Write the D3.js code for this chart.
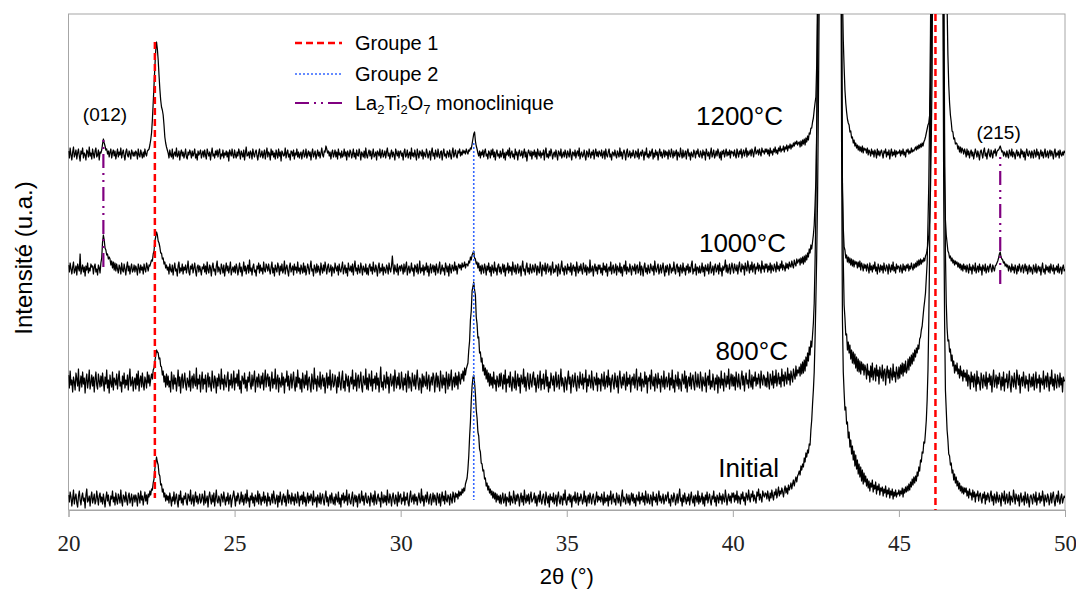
<!DOCTYPE html>
<html><head><meta charset="utf-8">
<script src="https://cdn.jsdelivr.net/npm/d3@7"></script>
<style>body{margin:0;background:#fff}</style></head>
<body>
<svg id="c" width="1076" height="590"></svg>
<script>
// 2θ grid of the scans (one row = 1°)
const xStart = 20, xStep = 0.025;
const seriesNames = ["Initial", "800°C", "1000°C", "1200°C"];
const seriesOffsets = [10, 127, 240, 355];   // vertical stacking offsets (a.u.)

const initialScan = [
5,-2,8,3,-6,1,10,-4,2,6,-3,-7,4,9,0,-5,3,7,-1,2,-8,5,11,-2,0,4,-6,3,8,-3,1,6,-4,-1,9,2,-5,4,7,-2,
3,-4,6,0,-7,2,8,-1,5,-3,-6,4,1,9,-2,3,-5,7,0,-4,6,2,-3,10,-1,-6,5,3,-2,8,0,-5,4,7,-3,1,6,-6,2,5,
-2,5,1,-6,7,3,-3,9,0,4,-5,2,8,-1,5,-4,6,3,9,5,11,10,17,21,31,37,43,38,35,26,24,15,16,8,11,3,7,-1,5,0,
4,-3,7,1,-6,3,-1,8,-4,2,6,-2,-7,5,0,9,-3,2,-5,4,1,7,-2,-5,6,3,-1,10,-4,0,5,-6,2,8,-2,4,-4,1,6,-3,
-1,6,2,-5,9,-3,0,4,-7,3,8,1,-4,5,-2,7,-6,2,10,-1,-3,4,0,-6,6,3,-2,8,1,-5,3,-1,7,-4,2,5,-7,0,4,9,
2,-6,4,-1,7,3,-4,0,8,-2,5,-5,1,6,-3,10,-1,2,-7,4,0,7,-3,3,-6,5,1,-2,9,-4,6,2,-5,3,-1,8,-3,4,0,-6,
7,-1,3,-5,0,6,-3,9,2,-4,1,5,-7,4,-2,8,0,-5,3,6,-2,4,-6,1,10,-3,5,2,-4,7,-1,3,-5,6,0,-3,8,2,-6,4,
0,5,-4,8,-2,3,-6,1,7,-3,4,-1,6,2,-5,9,-2,0,3,-7,5,1,-3,7,-4,2,6,-1,-5,4,9,-2,3,-6,1,5,-3,7,0,-4,
3,-5,6,1,-2,8,-4,2,-7,5,0,7,-3,4,-1,10,-5,2,6,-2,-4,3,8,-6,1,5,-2,4,-7,2,6,-3,0,9,-1,4,-5,3,7,-2,
-3,4,1,-6,7,2,-2,5,-5,9,0,-4,3,6,-1,2,-7,8,1,-3,5,-2,4,-5,10,0,-3,6,2,-6,3,7,-1,-4,5,1,-6,8,-2,4,
6,-4,2,-1,8,-5,3,0,7,-3,-6,4,9,-2,1,5,-4,6,-1,3,-5,2,7,0,-3,11,-1,4,-6,2,5,-2,8,1,-4,3,6,-5,0,7,
-2,5,1,-5,7,3,-3,6,-6,2,8,-1,4,-4,9,0,-2,5,3,-5,6,1,-3,8,4,-2,7,3,6,1,9,4,8,5,11,7,12,9,16,19,
22,31,44,63,78,99,114,122,125,117,106,90,82,68,64,51,48,37,36,29,30,21,22,14,17,10,14,7,11,5,9,2,8,1,7,-2,6,0,4,-3,
5,-4,2,7,-3,0,6,-6,3,1,-2,8,-5,4,0,-3,9,2,-4,5,-1,6,3,-6,2,7,-2,4,-5,10,1,-3,5,-1,6,-4,3,8,-2,0,
2,7,-3,4,-6,1,5,-2,9,0,-4,3,6,-1,-5,8,2,-3,4,-7,6,0,3,-2,7,-4,1,5,-6,3,8,-1,-4,4,2,-5,6,0,10,-2,
-5,3,0,6,-2,5,-7,2,4,-1,8,-3,1,7,-5,3,-1,6,2,-4,0,9,-2,4,-6,1,5,-3,7,2,-4,3,6,-1,-5,2,8,-2,4,0,
3,-2,6,1,-5,8,-3,2,-1,5,-6,4,0,9,-4,3,6,-2,1,-5,7,2,-3,5,-1,-6,4,10,-2,3,0,-4,6,2,-3,5,-5,1,7,-1,
6,-3,2,-6,5,1,-1,8,-4,3,0,7,-2,4,-5,9,1,-3,6,-1,-4,5,2,-6,8,0,3,-2,6,-5,2,9,-1,4,-3,1,6,-4,0,5,
-1,4,8,-3,1,-6,5,2,-2,7,3,-5,0,6,-3,4,11,-1,2,-6,5,-2,7,1,-4,3,-1,6,-5,2,8,0,-3,4,-6,5,2,-2,9,-4,
4,-2,1,7,-4,3,-6,5,0,8,-3,2,6,-1,-5,4,1,9,-2,3,-6,5,2,-3,7,0,4,-4,6,1,-2,10,3,-5,2,6,-1,4,-3,7,
3,7,-2,5,0,9,-3,4,2,-4,6,1,8,-1,3,-5,7,4,0,10,2,-2,6,3,9,-1,5,1,-3,8,4,11,0,6,2,-2,9,5,3,7,
6,1,9,3,-1,7,2,10,4,0,8,5,11,2,7,13,4,9,6,12,8,3,10,14,7,12,6,15,10,13,17,11,16,20,14,19,23,18,24,26,
29,25,34,30,36,33,42,38,47,43,50,47,56,55,70,80,96,110,128,160,200,245,300,390,500,650,800,1000,1200,1400,1600,1700,1800,1750,1700,1800,1900,1950,2000,2000,
1900,1850,1700,1600,1500,1350,1200,1050,900,750,600,350,180,128,108,90,93,76,78,62,68,53,60,46,54,40,49,34,45,31,40,26,36,23,33,19,30,16,27,18,
24,14,21,12,19,9,17,13,20,8,15,11,18,6,14,10,16,5,12,9,13,4,11,7,14,3,10,6,12,2,9,5,11,1,8,4,10,3,7,6,
10,4,9,6,12,3,11,7,13,8,14,9,16,10,18,13,21,15,23,17,24,19,28,24,33,29,40,38,48,47,58,57,68,80,100,130,180,250,350,500,
700,900,1100,1300,1500,1600,1700,1750,1800,1700,1500,1200,800,500,300,180,110,90,70,60,46,44,35,37,27,30,20,26,17,23,14,19,11,17,9,14,7,13,6,12,
8,12,4,9,2,11,5,7,0,10,3,8,-2,6,4,9,-1,5,7,1,-3,6,2,8,-4,5,0,7,3,-2,5,9,-1,4,-5,6,2,-3,8,1,
-2,5,1,-6,7,3,-1,9,-4,2,6,-3,0,8,-5,4,1,-2,10,3,-4,6,2,-1,5,-6,3,7,-2,0,4,-5,8,1,-3,6,0,-7,3,5,
1,-4,6,3,-2,8,-5,2,0,7,-3,4,-1,9,2,-6,5,1,-2,6,3,-5,0,7,-3,4,8,-1,-6,2,5,-2,9,0,-4,3,6,-3,1,4,
2];

const scan800 = [
8,-5,12,-2,3,-9,6,1,-7,10,4,-3,14,-8,0,7,-4,11,-1,5,-10,3,9,-5,2,13,-6,0,8,-3,6,-9,4,11,-2,-6,9,2,-4,7,
-3,10,1,-8,6,-1,13,-5,3,-10,8,0,-4,11,-7,5,2,-2,9,-6,4,12,-3,1,-9,7,-1,10,-5,3,-2,8,-7,5,14,-3,0,6,-8,2,
5,-6,9,-2,12,-8,3,7,-4,10,-1,-7,6,2,-5,11,0,8,-3,4,9,4,13,15,22,27,33,31,30,24,25,17,16,8,12,1,7,-4,9,-2,
7,-4,2,-9,11,3,-6,8,-1,5,-8,1,13,-3,6,-10,4,9,-5,2,10,-2,-7,5,1,-4,12,-8,3,7,-5,9,0,-3,15,-6,4,-1,8,-9,
2,11,-6,4,-1,8,-9,3,10,-4,6,-2,-8,12,1,-5,7,3,-10,5,-3,9,2,-6,14,-1,4,-7,8,0,-4,6,11,-8,3,-2,9,-5,1,12,
-7,5,0,9,-3,13,-6,2,-10,7,4,-1,10,-5,3,-8,6,1,11,-2,-6,8,-3,4,12,-9,2,6,-4,9,1,-5,7,-1,10,-7,3,13,-4,5,
9,-3,6,-8,2,11,-5,4,-1,14,-6,3,8,-9,5,0,-4,10,-2,6,-10,4,1,12,-3,7,-7,2,9,-5,3,11,-2,-8,6,-4,13,0,5,-6,
4,-9,10,1,-5,8,-2,12,-7,3,6,-3,-9,9,2,-6,15,-1,4,-8,7,0,-4,11,-6,3,8,-3,5,-10,2,10,-5,6,-2,13,-7,1,9,-4,
-2,8,3,-10,6,-4,11,0,-7,5,12,-5,2,-8,9,4,-3,7,-9,1,6,-1,13,-6,3,-3,10,-8,4,8,-5,2,11,-4,-9,7,1,-2,14,-6,
5,-7,9,2,-3,12,-8,4,0,7,-6,10,-2,5,-9,3,16,-4,1,-7,8,2,-5,11,-1,6,-10,4,9,-3,0,7,-8,13,3,-5,6,-2,10,-6,
-4,11,1,-7,5,-2,9,-9,3,12,-5,6,0,-8,10,2,-3,8,-6,4,13,-1,-7,5,2,-10,9,-4,7,0,-3,11,-6,3,8,-8,1,6,-2,10,
6,-9,3,10,-4,7,-1,-8,12,2,-5,8,-2,5,-10,11,3,-6,9,-3,4,13,-7,2,6,-4,10,-2,7,-6,11,3,-1,9,4,12,2,15,8,14,
17,20,33,42,63,72,92,96,101,93,88,66,59,45,46,30,31,21,25,12,18,8,15,4,13,1,10,-3,9,-2,6,-5,11,-1,3,-8,7,2,-4,9,
-3,10,2,-6,8,-1,13,-9,4,0,7,-4,11,-2,-8,6,3,-5,12,-7,1,9,-3,5,-10,8,2,-1,14,-4,6,-8,3,10,-2,-6,9,1,-4,7,
11,-2,5,-9,0,8,-5,3,12,-7,4,-1,9,-6,2,13,-3,6,-9,1,-5,10,3,-2,7,-8,4,11,-4,0,8,-6,2,14,-3,5,-1,-9,6,3,
-7,4,12,-1,6,-10,3,8,-4,1,10,-3,-8,7,2,-5,11,0,-2,9,-6,5,1,13,-9,4,-3,8,2,-5,12,0,-7,6,3,-2,10,-8,5,-1,
4,-8,9,2,-3,11,-6,1,7,-4,13,-2,5,-9,3,8,-1,-6,10,2,-4,7,-10,4,12,0,-5,6,-2,9,1,-7,11,-3,5,-1,8,-9,3,6,
-2,9,-5,3,14,-7,2,6,-3,10,-8,4,1,-4,11,-1,7,-10,5,2,8,-6,13,0,-3,6,-8,9,3,-5,10,-1,4,-9,7,2,-4,12,-6,3,
6,-4,1,10,-7,5,-2,13,-5,3,-9,8,2,-3,11,-6,4,0,-8,9,3,-1,12,-5,7,-9,2,6,-3,10,-6,4,8,-2,-7,11,1,-4,9,-1,
-5,11,3,-8,6,0,-3,10,-9,4,7,-2,13,-6,2,-4,9,1,-7,5,-1,8,-10,6,3,-5,12,-2,4,-8,10,2,-4,7,-1,14,-6,3,9,-3,
8,-3,6,-7,11,2,-4,9,0,-6,5,12,-2,7,-8,4,10,-1,3,-5,13,1,-4,8,-6,6,2,11,-3,5,-1,9,4,-5,12,3,-2,8,6,-3,
5,-4,11,1,-6,9,3,-2,12,-5,7,0,13,-3,4,10,-1,6,-4,14,2,8,-3,11,5,-1,15,3,9,-2,12,6,1,14,8,4,17,7,13,10,
16,7,19,9,21,10,23,12,26,17,30,22,36,28,42,36,48,60,80,120,170,250,350,470,600,750,900,1100,1300,1500,1700,1800,1900,1850,1800,1900,2000,2050,2100,2100,
2000,1900,1800,1650,1500,1350,1200,1050,900,750,600,380,200,122,78,65,48,49,33,41,30,38,24,33,20,31,19,29,15,26,12,24,11,22,9,21,13,19,8,18,
14,4,19,8,12,1,17,6,20,3,11,15,2,18,7,13,-1,16,9,5,18,2,12,14,-2,10,17,5,13,0,15,8,3,19,6,11,1,16,10,4,
16,5,18,9,20,7,19,11,22,10,14,24,13,26,17,28,19,30,22,33,26,35,30,38,34,44,46,53,57,66,75,82,90,105,120,160,200,270,350,470,
600,800,1000,1200,1400,1550,1700,1750,1800,1700,1600,1300,1000,700,450,250,130,80,55,42,43,31,34,22,28,17,22,10,18,12,20,9,14,5,17,7,12,2,13,6,
10,2,13,-3,8,5,-6,11,1,7,-4,9,3,-8,12,-1,6,0,-7,10,4,-5,8,2,-3,11,-6,5,1,9,-2,7,-9,4,13,-4,2,8,-5,6,
-1,10,3,-7,6,-3,11,-8,4,1,9,-5,2,12,-2,-9,7,3,-4,10,0,-6,13,5,-2,8,-10,4,6,-3,11,1,-5,7,-1,3,-8,9,2,-4,
6,-3,9,-7,2,11,-5,4,0,8,-9,5,1,-2,12,-6,3,7,-4,10,2,-8,6,-1,13,-3,4,-7,9,1,-5,8,3,-4,10,-2,5,-9,6,2,
3];

const scan1000 = [
5,-2,7,1,-4,3,8,-3,0,4,-5,6,2,-1,16,-4,1,5,-2,3,-6,4,0,7,-3,2,-1,6,3,4,-4,3,6,-2,1,-5,5,2,-3,7,
12,28,35,30,22,20,15,16,11,13,11,5,9,2,8,0,7,-1,6,1,-3,5,2,-4,7,0,-2,6,1,-5,3,8,-1,4,-4,2,6,-2,0,5,
-2,4,1,-5,6,2,-3,5,0,3,-4,6,1,-2,7,3,-1,5,4,7,10,9,16,19,29,33,38,35,29,27,23,17,17,11,12,6,8,2,5,0,
3,-4,6,0,-2,5,-5,2,7,-1,1,-6,4,8,-3,2,-1,6,-4,3,0,5,-3,2,9,-2,-5,4,1,6,-3,2,7,-1,-6,3,5,-2,4,0,
-5,3,1,6,-2,4,-4,8,0,-3,5,2,-6,3,7,-1,1,-5,4,9,-2,3,0,-4,6,2,-3,5,-6,1,7,-1,4,-3,2,8,-5,0,3,-2,
4,-3,6,2,-5,1,7,-2,3,-6,0,8,-1,4,-4,2,5,-3,10,-1,2,-5,3,6,-2,0,-6,4,1,7,-3,5,-1,2,-4,8,0,-2,6,3,
-1,6,0,-4,3,8,-3,2,-6,5,1,-2,7,3,-5,4,-1,6,-3,0,9,-4,2,5,-1,-6,3,7,-2,1,4,-5,6,0,3,-3,8,-1,2,-4,
5,1,-3,7,-2,4,-5,0,6,2,-4,3,9,-1,1,-6,5,2,-3,6,-2,4,0,-5,7,1,-3,5,-1,8,2,-4,3,6,-2,0,5,-6,3,1,
-3,7,2,-1,4,-5,6,0,-2,3,8,-4,1,5,-3,2,-6,7,1,-1,4,-2,6,-5,3,9,-1,2,-4,5,0,-3,7,2,-5,4,1,-2,6,-4,
2,-5,4,6,-1,3,-4,8,0,-2,5,1,-6,3,7,-3,2,-1,6,-5,3,0,-3,5,2,-4,7,1,-2,4,14,3,-4,5,0,-2,6,-5,2,4,
-1,5,2,-4,6,-2,3,8,-5,1,4,-3,0,7,-1,2,-6,5,3,-2,6,-4,1,9,-3,2,-1,5,-5,3,0,7,-2,4,-6,1,6,-3,2,5,
-2,4,-5,6,1,-3,3,8,-4,0,5,-1,2,-5,7,3,-2,4,-6,6,1,-3,5,2,-1,8,0,4,-4,3,6,2,5,0,7,3,4,8,2,6,
6,4,9,7,13,10,15,17,19,12,11,6,8,2,7,-1,4,-4,5,1,-3,6,2,-5,4,0,7,-2,3,-6,5,1,-3,8,-1,2,-5,4,6,-2,
3,-4,1,6,-2,5,-6,2,0,7,-3,4,-1,3,-5,8,1,-2,5,-4,2,6,-3,0,4,-6,3,9,-1,1,-5,3,7,-2,2,-4,6,0,-3,5,
1,-2,6,3,-5,4,0,-3,8,2,-6,5,1,-1,7,-4,3,6,-2,0,4,-5,2,8,-3,1,-2,5,3,-6,6,0,-4,3,9,-1,2,-5,4,1,
-4,6,0,3,-2,7,-5,2,5,-1,3,-6,8,1,-3,4,-1,6,0,-4,7,2,-2,5,-5,3,1,-3,10,-2,0,4,-6,2,6,-1,3,-4,5,1,
5,-3,2,-5,7,0,4,-2,6,-6,1,3,-1,8,-4,2,5,-3,0,6,-5,4,1,-2,7,-3,3,-6,2,5,-1,9,-4,3,0,-2,6,1,-5,4,
2,-1,6,-4,3,5,-3,0,8,-5,4,1,-6,3,7,-2,2,-4,5,0,-3,6,2,-1,4,-5,9,1,-2,3,6,-4,0,5,-3,2,7,-1,-6,4,
-2,5,1,-5,6,3,-3,2,-1,8,0,-4,4,6,-2,3,-6,5,1,-3,7,-1,2,-5,4,0,6,-3,3,-2,5,9,-4,1,-1,6,-5,3,2,-3,
4,-3,0,7,-2,3,-6,5,1,-1,6,-4,2,8,-3,0,4,-5,3,6,-2,1,5,-4,7,-1,2,-6,4,0,3,10,-2,5,-3,1,6,-4,2,7,
1,-3,6,2,-1,5,-4,3,8,0,-2,6,1,4,-5,7,2,-1,9,3,-3,5,0,8,-2,4,6,-4,3,1,7,-1,5,2,-3,9,1,4,-2,6,
2,6,-2,4,0,7,-3,5,1,-1,6,3,-2,8,1,4,-1,6,2,9,0,5,3,-1,7,2,6,1,8,4,3,9,5,2,10,6,4,11,7,9,
11,5,12,7,13,6,14,8,15,10,17,13,21,17,25,21,28,35,45,65,90,140,200,300,400,600,800,1050,1300,1500,1700,1800,1900,1850,1800,1900,2000,2050,2100,2100,
2000,1900,1800,1650,1500,1300,1100,900,750,620,500,250,80,42,23,20,12,15,8,13,7,12,5,11,4,10,3,9,6,8,2,8,3,9,0,7,4,-1,6,2,
5,-1,6,2,-3,7,0,4,-2,5,1,8,-1,3,-4,6,2,-2,5,0,4,-3,7,1,-1,5,3,-4,6,2,-2,5,0,8,-1,3,-3,6,1,4,
3,-2,5,1,-3,6,0,4,-1,5,2,6,-1,4,1,7,3,0,6,2,7,3,9,4,10,5,11,6,10,8,12,9,14,16,20,27,35,50,80,130,
200,400,600,900,1200,1400,1600,1650,1700,1600,1500,1200,900,500,150,90,50,35,27,19,17,12,14,9,12,7,10,5,9,6,8,3,7,2,6,0,5,-1,6,1,
4,-2,5,1,-3,6,0,3,-4,5,2,-1,7,-3,1,4,-2,6,0,3,-5,5,2,-1,6,-3,1,4,-2,3,6,1,-2,5,2,-1,4,5,7,9,
12,16,18,13,11,10,7,8,4,6,3,5,-1,4,2,-2,6,0,3,-3,5,1,-4,4,-1,6,2,-2,3,5,-3,2,6,-1,4,-4,1,5,-2,3,
0,-4,5,2,-2,6,-3,1,4,-1,3,-5,2,7,-2,1,-4,5,0,3,-2,4,-3,6,1,-1,5,-4,2,0,4,-2,6,-3,1,3,-4,2,5,-1,
1];

const scan1200 = [
4,-3,7,0,-5,3,8,-2,1,5,-4,2,6,-1,-6,4,1,7,-3,2,0,-5,5,3,-2,8,-1,2,-4,6,1,-3,4,7,-2,0,5,-5,3,2,
5,11,16,12,9,5,6,1,4,-2,3,6,-3,2,5,-1,4,-4,1,6,-2,3,0,7,-3,2,5,-1,-5,3,6,0,-2,4,1,-4,5,2,-1,3,
-1,4,2,-4,6,0,-2,5,1,-3,3,-2,6,1,-1,4,5,6,10,15,22,35,52,70,88,104,113,106,95,80,66,55,48,45,40,30,18,12,8,5,
2,-3,5,0,-2,6,-4,1,3,-1,7,-2,0,4,-5,2,5,-1,3,-3,1,6,-2,-4,3,0,5,2,-3,4,-1,2,6,-3,1,-5,4,0,2,5,
-3,1,4,-2,5,0,-4,6,2,-1,3,-5,2,7,-1,1,-3,4,0,5,-2,3,6,-4,1,-1,5,-3,2,0,4,-2,3,-6,5,2,-1,6,0,-3,
5,0,-3,3,-1,6,2,-4,4,1,-2,5,-5,2,8,-1,0,3,-3,4,2,-4,6,1,-2,3,5,-1,-5,2,6,-2,0,4,-3,1,5,-4,2,7,
-2,3,1,-5,6,0,4,-2,2,-4,5,1,-3,6,-1,3,-6,4,2,-1,0,7,-3,2,5,-2,1,-5,4,3,-1,5,-4,2,0,6,-2,3,-3,1,
3,-4,2,5,-2,0,6,-3,1,4,-1,3,-5,2,6,-2,1,4,-4,0,5,-1,3,-3,2,7,0,-2,4,3,9,6,2,4,-1,3,-4,2,5,-2,
1,5,-2,3,-4,6,0,2,-3,4,-2,0,6,-1,3,-5,4,1,-2,5,3,-3,1,6,-2,2,-4,5,0,-1,6,2,-5,3,1,-2,4,-3,7,0,
-3,2,5,-1,4,-4,1,6,-2,0,3,-5,4,2,-1,6,-3,1,5,-2,0,4,-3,3,7,-1,2,-4,1,5,-2,3,0,-5,6,2,-1,4,-3,3,
4,-1,2,-5,3,6,-2,0,5,-3,1,3,-4,7,-1,2,-2,5,0,-5,6,1,-3,4,2,-1,5,-4,3,0,-2,6,2,-3,1,4,-5,3,7,-1,
2,-4,5,1,-2,6,0,-3,3,4,-5,2,6,-1,1,-3,4,2,-2,5,0,-4,3,7,-2,1,5,-1,-3,4,2,6,-1,3,0,5,2,4,1,6,
3,1,5,4,7,6,11,16,21,23,14,9,6,2,-1,4,-3,3,0,5,-2,3,6,-1,1,-4,4,2,-3,5,0,6,-2,3,-5,2,5,-1,1,-3,
4,-2,1,6,-3,2,-5,3,0,5,-1,7,-3,2,4,-2,1,-4,6,0,3,-5,2,5,-1,0,4,-3,2,6,-2,3,-6,1,5,2,-1,4,-4,3,
0,5,-2,3,-4,6,1,-1,4,-3,2,0,5,-5,3,7,-2,1,-3,4,-1,6,2,-4,1,3,-2,5,0,-5,4,2,-1,6,-3,0,3,-2,5,1,
-3,4,1,-2,6,0,-5,3,2,-1,5,-3,2,4,-1,7,-4,1,3,-2,0,5,-1,-5,4,2,-2,6,1,-3,3,0,5,-4,2,6,-1,3,-2,4,
2,-1,5,-3,1,4,-4,6,0,-2,3,6,-2,1,-5,3,2,-1,5,0,-3,4,1,-2,7,-1,3,-4,2,5,1,-5,3,6,-2,0,4,-3,2,-1,
5,0,-3,4,2,-2,6,-4,1,3,-1,5,2,-5,3,0,7,-2,1,-3,4,-1,3,6,-4,2,-2,5,0,3,-5,2,6,-1,3,-3,1,5,-2,4,
0,3,-4,5,1,-2,6,2,-3,4,-1,2,5,-5,3,0,-2,7,1,-3,5,-2,1,4,-4,3,6,-1,2,-5,3,0,-2,5,2,-3,4,1,6,-1,
-2,4,1,-3,5,0,3,-5,6,2,-1,3,-4,2,7,-2,1,5,-3,0,4,-1,6,2,-3,3,-5,4,1,5,-2,2,6,-1,3,0,5,-3,4,2,
3,-1,5,0,-3,6,2,-2,4,1,6,-3,2,5,-1,3,7,-2,4,0,2,5,-1,6,3,-2,4,8,1,3,5,0,6,2,-1,7,3,4,1,6,
3,6,1,5,-1,7,2,4,0,6,3,8,2,5,1,7,4,9,3,6,5,9,3,8,6,10,4,9,7,11,6,10,8,12,9,13,11,14,10,12,
13,8,14,9,15,11,16,10,17,13,19,15,22,21,27,27,33,37,45,52,58,90,160,280,420,600,800,1050,1300,1500,1700,1800,1900,1850,1800,1900,2000,2050,2100,2100,
2000,1900,1800,1600,1400,1200,1000,850,700,550,420,280,160,115,88,65,52,43,36,32,30,23,24,17,18,12,15,9,12,7,10,5,9,4,8,3,9,2,7,5,
6,2,7,0,5,3,-1,6,1,4,-2,5,2,-3,6,0,4,-1,3,5,1,-3,4,2,6,-2,3,0,5,-4,2,6,-1,3,0,5,-2,4,1,3,
2,5,-1,4,1,6,0,3,-2,5,3,6,1,4,2,7,3,5,4,6,8,5,9,6,10,7,11,8,12,9,13,15,18,22,26,30,32,40,60,110,
200,350,500,750,1000,1250,1500,1600,1700,1650,1600,1550,1500,1350,1200,800,300,220,150,100,70,52,40,33,24,23,16,17,11,12,11,6,9,3,8,2,7,5,1,6,
3,-2,6,0,4,-3,2,5,-1,3,-4,1,6,2,-2,4,0,-5,3,5,1,-3,4,7,-1,2,-4,3,6,0,-2,5,1,-3,4,2,6,-1,3,5,
5,7,9,6,3,4,-1,3,1,-2,4,0,-3,5,2,-1,6,-2,3,1,-4,2,5,-1,3,0,-3,6,1,4,-2,3,-5,2,6,0,-1,4,2,-3,
4,1,-3,5,2,-2,6,0,3,-4,1,5,-1,3,-3,2,6,-2,0,4,-3,2,5,-1,4,1,-4,3,6,-2,2,0,4,-3,5,1,-1,3,0,4,
2];

const scans = [initialScan, scan800, scan1000, scan1200];

// reference positions (2θ) and their vertical extents (a.u.)
const group1Pos = [22.6, 46.1];
const group1Extent = [[12, 468], [0, 496]];
const group2Pos = [32.2];
const group2Extent = [[10, 367]];
const monoPos = [21.05, 48.05];
const monoExtent = [[238, 370], [222, 353]];

const xTicks = [20, 25, 30, 35, 40, 45, 50];

const tempLabelX = [41.39, 41.66, 41.60, 41.51];
const tempLabelY = [33, 150, 258, 385];
const hklLabels = ["(012)", "(215)"];
const hklX = [21.10, 48.0];
const hklY = [389, 371];

const legendNames = ["Groupe 1", "Groupe 2", "La2Ti2O7 monoclinique"];

// ---------- drawing ----------
const svg = d3.select("#c");
const L = 68.5, R = 1065, T = 14, B = 510;
const SANS = "'Liberation Sans', Arial, sans-serif";
const SERIF = "'Liberation Serif', 'Times New Roman', serif";
const x = d3.scaleLinear().domain([20, 50]).range([L, R]);
const y = d3.scaleLinear().domain([0, 496]).range([B, T]);

svg.append("defs").append("clipPath").attr("id", "pc")
  .append("rect").attr("x", L).attr("y", T).attr("width", R - L).attr("height", B - T);

// frame
svg.append("rect").attr("x", L).attr("y", T).attr("width", R - L).attr("height", B - T)
  .attr("fill", "none").attr("stroke", "#a6a6a6").attr("stroke-width", 1);

const gPlot = svg.append("g").attr("clip-path", "url(#pc)");

scans.forEach((s, k) => {
  const line = d3.line()
    .x((d, i) => x(xStart + i * xStep))
    .y(d => y(seriesOffsets[k] + d));
  gPlot.append("path").datum(s).attr("d", line)
    .attr("fill", "none").attr("stroke", "#000").attr("stroke-width", 1.25)
    .attr("stroke-linejoin", "round");
});

function refLine(pos, ext, color, dash, w) {
  pos.forEach((p, i) => {
    gPlot.append("line")
      .attr("x1", x(p)).attr("x2", x(p))
      .attr("y1", y(ext[i][1])).attr("y2", y(ext[i][0]))
      .attr("stroke", color).attr("stroke-width", w).attr("stroke-dasharray", dash);
  });
}
const styles = [
  {color: "#ff0000", dash: "7,4", w: 2.5},
  {color: "#3366ff", dash: "2,2", w: 1.6},
  {color: "#800080", dash: "14,5,2,5,2,5", w: 2.2}
];
refLine(group1Pos, group1Extent, styles[0].color, styles[0].dash, styles[0].w);
refLine(group2Pos, group2Extent, styles[1].color, styles[1].dash, styles[1].w);
refLine(monoPos, monoExtent, styles[2].color, "2,5,2,5,14,5", styles[2].w);

// x axis
const xAxis = d3.axisBottom(x).tickValues(xTicks).tickSize(7).tickFormat(d3.format("d"));
const gx = svg.append("g").attr("transform", `translate(0,${B})`).call(xAxis)
  .attr("font-family", SERIF).attr("font-size", 23);
gx.select(".domain").attr("stroke", "#a6a6a6");
gx.selectAll(".tick line").attr("stroke", "#a6a6a6");
gx.selectAll(".tick text").attr("fill", "#222").attr("dy", 0).attr("y", 41)
  .style("font-family", SERIF).style("font-size", "23px");

svg.append("text").attr("x", (L + R) / 2).attr("y", 584).attr("text-anchor", "middle")
  .style("font-family", SANS).style("font-size", "22px")
  .text("2θ (°)");
svg.append("text").attr("transform", `translate(32,${(T + B) / 2 - 4}) rotate(-90)`)
  .attr("text-anchor", "middle")
  .style("font-family", SANS).style("font-size", "24px")
  .text("Intensité (u.a.)");

// temperature labels
seriesNames.forEach((n, k) => {
  svg.append("text").attr("x", x(tempLabelX[k])).attr("y", y(tempLabelY[k]))
    .attr("text-anchor", "end")
    .style("font-family", SANS).style("font-size", "26px")
    .text(n);
});
hklLabels.forEach((n, k) => {
  svg.append("text").attr("x", x(hklX[k])).attr("y", y(hklY[k]))
    .attr("text-anchor", "middle")
    .style("font-family", SANS).style("font-size", "19px")
    .text(n);
});

// legend
const legY = [43, 74, 103];
legendNames.forEach((n, k) => {
  svg.append("line").attr("x1", 295).attr("x2", 342).attr("y1", legY[k]).attr("y2", legY[k])
    .attr("stroke", styles[k].color).attr("stroke-width", styles[k].w)
    .attr("stroke-dasharray", styles[k].dash);
  const t = svg.append("text").attr("x", 355).attr("y", legY[k] + 7)
    .style("font-family", SANS).style("font-size", "20px");
  if (k < 2) { t.text(n); }
  else {
    const parts = [["La", 0], ["2", 4], ["Ti", -4], ["2", 4], ["O", -4], ["7", 4], [" monoclinique", -4]];
    parts.forEach(p => {
      const sp = t.append("tspan").text(p[0]);
      if (p[1]) sp.attr("dy", p[1]);
      if (p[1] > 0) sp.style("font-size", "13px");
    });
  }
});
</script>
</body></html>
